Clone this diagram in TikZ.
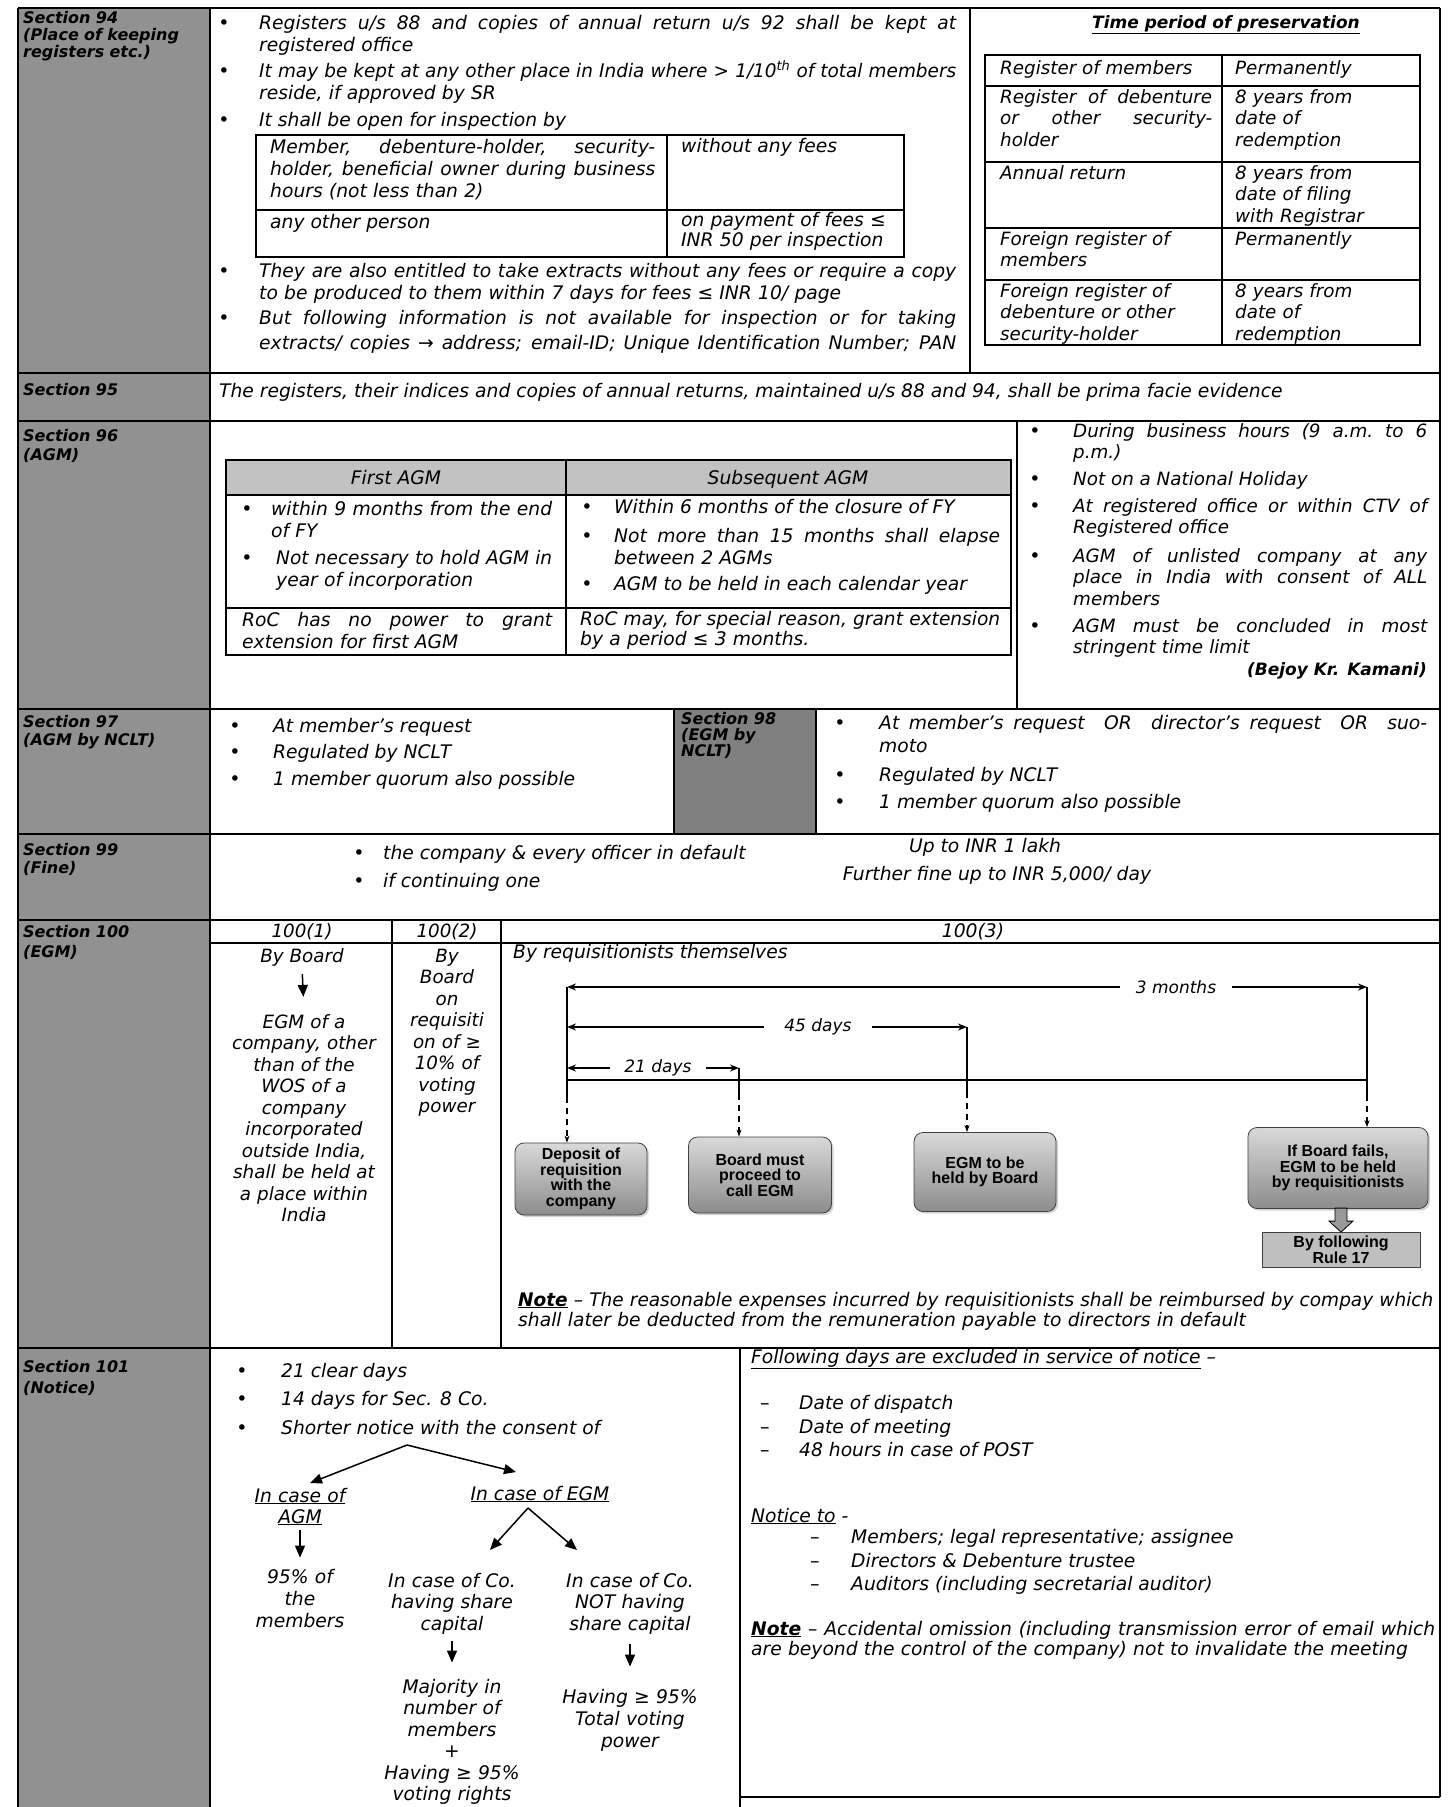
\documentclass[tikz,border=0pt]{standalone}
\usepackage{fontspec}
\setmainfont{DejaVu Sans}
\newfontfamily\narf{DejaVu Sans}
\newfontfamily\boxf{Liberation Sans}
\usetikzlibrary{arrows.meta,shadows,calc}
\newcommand{\sle}{≤}
\newcommand{\sge}{≥}
\newcommand{\sra}{→}
% a justified line of given width; squeezed if its natural width is larger
\newlength{\jlw}
\newcommand{\jline}[2]{\settowidth{\jlw}{#2}\ifdim\jlw>#1\relax\resizebox{#1}{\height}{#2}\else\makebox[#1][s]{\spaceskip=\fontdimen2\font plus 1fil\xspaceskip=\spaceskip #2}\fi}
\tikzset{
  sptip/.tip={Stealth[length=9pt,width=7pt]},
  grid/.style={line width=2pt},
  thinrule/.style={line width=1.4pt},
  nar/.style={font=\narf\itshape\fontsize{18.7}{22}\selectfont, inner sep=0pt, anchor=base west, align=left},
  wid/.style={font=\narf\itshape\fontsize{18.3}{21.5}\selectfont, inner sep=0pt, anchor=base west, align=left},
  widc/.style={wid, anchor=base, align=center},
  narc/.style={nar, anchor=base, align=center},
  lab/.style={font=\narf\bfseries\itshape\fontsize{16}{17}\selectfont, inner sep=0pt, anchor=base west, align=left, text width=185pt},
  dot/.style={font=\narf\fontsize{19}{22}\selectfont, inner sep=0pt, anchor=base},
  dashmark/.style={font=\narf\fontsize{19}{22}\selectfont, inner sep=0pt, anchor=base west},
  evbox/.style={rounded corners=9pt, draw=black!75, line width=0.8pt, top color=black!15, bottom color=black!45,
    drop shadow={opacity=0.35,shadow xshift=2pt,shadow yshift=-2pt},
    font=\boxf\bfseries\fontsize{16}{15.5}\selectfont, align=center, inner sep=2pt},
  tlab/.style={font=\narf\itshape\fontsize{17}{18}\selectfont, inner xsep=10pt, inner ysep=0pt},
  span/.style={line width=2pt},
  dsh/.style={line width=1.8pt, dash pattern=on 6pt off 5pt, -{Stealth[length=7pt,width=5pt]}},
  fat/.style={line width=1.5pt, -{Triangle[length=12pt,width=10pt]}},
}
\begin{document}
\begin{tikzpicture}[x=1pt,y=-1pt]
\useasboundingbox (0,0) rectangle (1450,1807);
% shaded cells
\fill[black!43] (18,8) rectangle (210,1807);
\fill[black!50] (674,709) rectangle (816,834);
\fill[black!24] (226,460) rectangle (1011,495);
% main grid
\draw[grid] (18,8) -- (1440,8);
\draw[grid] (18,8) -- (18,1807);
\draw[grid] (210,8) -- (210,1807);
\draw[grid] (1440,8) -- (1440,1797);
\foreach \yy in {373,421,709,834,920,1348} {\draw[grid] (18,\yy) -- (1440,\yy);}
\draw[grid] (740,1797) -- (1440,1797);
\draw[grid] (970,8) -- (970,373);
\draw[grid] (1017,421) -- (1017,709);
\draw[grid] (674,709) -- (674,834);
\draw[grid] (816,709) -- (816,834);
\draw[grid] (210,943) -- (1440,943);
\draw[grid] (392,920) -- (392,1348);
\draw[grid] (501,920) -- (501,1348);
\draw[grid] (740,1348) -- (740,1807);
% inner tables
\draw[thinrule] (256,135) rectangle (904,257);
\draw[thinrule] (667,135) -- (667,257);
\draw[thinrule] (256,210) -- (904,210);
\draw[thinrule] (985,55) rectangle (1420,345);
\draw[thinrule] (1222,55) -- (1222,345);
\foreach \yy in {86,162,228,280} {\draw[thinrule] (985,\yy) -- (1420,\yy);}
\draw[thinrule] (226,460) rectangle (1011,655);
\draw[thinrule] (226,495) -- (1011,495);
\draw[thinrule] (226,608) -- (1011,608);
\draw[thinrule] (566,460) -- (566,655);

% section labels
\node[lab] (s94) at (23,23) {Section 94\\(Place of keeping\\registers etc.)};
\node[lab] (s95) at (23,395) {Section 95};
\node[lab] (s96) at (23,441) {Section 96\\[2pt](AGM)};
\node[lab] (s97) at (23,727) {Section 97\\[1pt](AGM by NCLT)};
\node[lab, text width=130pt, font=\narf\bfseries\itshape\fontsize{16}{16}\selectfont] (s98) at (681,724) {Section 98\\(EGM by\\NCLT)};
\node[lab] (s99) at (23,855) {Section 99\\[1pt](Fine)};
\node[lab] (s100) at (23,937) {Section 100\\[3pt](EGM)};
\node[lab] (s101) at (23,1372) {Section 101\\[4pt](Notice)};

% Section 94
\node[dot] (d1) at (224,29) {\textbullet};
\node[nar,text width=697pt] (t1) at (259,29) {\jline{697pt}{Registers u/s 88 and copies of annual return u/s 92 shall be kept at}\\registered office};
\node[dot] (d2) at (224,77) {\textbullet};
\node[nar,text width=697pt] (t2) at (259,77) {\jline{697pt}{It may be kept at any other place in India where > 1/10\textsuperscript{th} of total members}\\reside, if approved by SR};
\node[dot] (d3) at (224,126) {\textbullet};
\node[nar] (t3) at (259,126) {It shall be open for inspection by};
\node[nar,text width=385pt] (c1) at (270,153) {\jline{385pt}{Member, debenture-holder, security-}\\\jline{385pt}{holder, beneficial owner during business}\\hours (not less than 2)};
\node[nar] (c2) at (681,152) {without any fees};
\node[nar] (c3) at (270,228) {any other person};
\node[nar,text width=215pt] (c4) at (681,226) {on payment of fees \sle\\[-2pt]INR 50 per inspection};
\node[dot] (d4) at (224,277) {\textbullet};
\node[nar,text width=697pt] (t4) at (259,277) {\jline{697pt}{They are also entitled to take extracts without any fees or require a copy}\\to be produced to them within 7 days for fees \sle{} INR 10/ page};
\node[dot] (d5) at (224,324) {\textbullet};
\node[nar,text width=697pt] (t5) at (259,324) {\jline{697pt}{But following information is not available for inspection or for taking}\\[3pt]\jline{697pt}{extracts/ copies \sra{} address; email-ID; Unique Identification Number; PAN}};

% preservation table
\node[font=\narf\bfseries\itshape\fontsize{17}{20}\selectfont, inner sep=0pt, anchor=base] (tp) at (1226,28) {\underline{Time period of preservation}};
\node[wid] (r1a) at (1000,74) {Register of members};
\node[wid] (r1b) at (1235,74) {Permanently};
\node[wid,text width=212pt] (r2a) at (1000,103) {\jline{212pt}{Register of debenture}\\\jline{212pt}{or other security-}\\holder};
\node[wid,text width=180pt] (r2b) at (1235,103) {8 years from\\date of\\redemption};
\node[wid] (r3a) at (1000,179) {Annual return};
\node[wid,text width=180pt] (r3b) at (1235,179) {8 years from\\date of filing\\with Registrar};
\node[wid,text width=212pt] (r4a) at (1000,245) {Foreign register of\\members};
\node[wid] (r4b) at (1235,245) {Permanently};
\node[wid,text width=212pt] (r5a) at (1000,297) {Foreign register of\\debenture or other\\security-holder};
\node[wid,text width=180pt] (r5b) at (1235,297) {8 years from\\date of\\redemption};

% Section 95
\node[nar] (t95) at (219,397) {The registers, their indices and copies of annual returns, maintained u/s 88 and 94, shall be prima facie evidence};

% Section 96 table
\node[nar, anchor=base] (h1) at (396,484) {First AGM};
\node[nar, anchor=base] (h2) at (788,484) {Subsequent AGM};
\node[dot] (d6) at (247,515) {\textbullet};
\node[nar,text width=281pt] (a1) at (271,515) {\jline{281pt}{within 9 months from the end}\\of FY};
\node[dot] (d7) at (247,564) {\textbullet};
\node[nar,text width=276pt] (a2) at (276,564) {\jline{276pt}{Not necessary to hold AGM in}\\year of incorporation};
\node[dot] (d8) at (587,513) {\textbullet};
\node[nar] (a3) at (614,513) {Within 6 months of the closure of FY};
\node[dot] (d9) at (587,542) {\textbullet};
\node[nar,text width=386pt] (a4) at (614,542) {\jline{386pt}{Not more than 15 months shall elapse}\\between 2 AGMs};
\node[dot] (d10) at (587,590) {\textbullet};
\node[nar] (a5) at (614,590) {AGM to be held in each calendar year};
\node[nar,text width=310pt] (a6) at (242,626) {\jline{310pt}{RoC has no power to grant}\\extension for first AGM};
\node[nar,text width=420pt] (a7) at (580,625) {\jline{420pt}{RoC may, for special reason, grant extension}\\[-2pt]by a period \sle{} 3 months.};

% Section 96 conditions
\node[dot] (d11) at (1035,437) {\textbullet};
\node[wid,text width=354pt] (g1) at (1073,437) {\jline{354pt}{During business hours (9 a.m. to 6}\\p.m.)};
\node[dot] (d12) at (1035,485) {\textbullet};
\node[wid] (g2) at (1073,485) {Not on a National Holiday};
\node[dot] (d13) at (1035,512) {\textbullet};
\node[wid,text width=354pt] (g3) at (1073,512) {\jline{354pt}{At registered office or within CTV of}\\Registered office};
\node[dot] (d14) at (1035,562) {\textbullet};
\node[wid,text width=354pt] (g4) at (1073,562) {\jline{354pt}{AGM of unlisted company at any}\\\jline{354pt}{place in India with consent of ALL}\\members};
\node[dot] (d15) at (1035,632) {\textbullet};
\node[wid,text width=354pt] (g5) at (1073,632) {\jline{354pt}{AGM must be concluded in most}\\stringent time limit};
\node[font=\narf\bfseries\itshape\fontsize{17}{20}\selectfont, inner sep=0pt, anchor=base east] (g6) at (1427,675) {(Bejoy Kr. Kamani)};

% Section 97
\node[dot] (d16) at (235,732) {\textbullet};
\node[nar] (u1) at (273,732) {At member’s request};
\node[dot] (d17) at (235,758) {\textbullet};
\node[nar] (u2) at (273,758) {Regulated by NCLT};
\node[dot] (d18) at (235,785) {\textbullet};
\node[nar] (u3) at (273,785) {1 member quorum also possible};

% Section 98
\node[dot] (d19) at (840,729) {\textbullet};
\node[nar,text width=548pt] (v1) at (879,729) {\jline{548pt}{At member’s request \ OR \ director’s request \ OR \ suo-}\\[1pt]moto};
\node[dot] (d20) at (840,781) {\textbullet};
\node[nar] (v2) at (879,781) {Regulated by NCLT};
\node[dot] (d21) at (840,808) {\textbullet};
\node[nar] (v3) at (879,808) {1 member quorum also possible};

% Section 99
\node[dot] (d22) at (359,859) {\textbullet};
\node[nar] (w1) at (383,859) {the company \& every officer in default};
\node[dot] (d23) at (359,887) {\textbullet};
\node[nar] (w2) at (383,887) {if continuing one};
\node[nar, anchor=base] (w3) at (985,852) {Up to INR 1 lakh};
\node[nar, anchor=base] (w4) at (997,880) {Further fine up to INR 5,000/ day};

% Section 100 headers
\node[widc] (k1) at (302,937) {100(1)};
\node[widc] (k2) at (447,937) {100(2)};
\node[narc] (k3) at (973,937) {100(3)};

% 100(1)
\node[widc] (by1) at (302,962) {By Board};
\node[widc, text width=180pt] (egm1) at (304,1028) {EGM of a\\company, other\\than of the\\WOS of a\\company\\incorporated\\outside India,\\shall be held at\\a place within\\India};
\draw[fat, shorten <=8pt, shorten >=17pt] (by1.south) -- (egm1.north);

% 100(2)
\node[widc, text width=105pt] (by2) at (447,962) {By\\Board\\on\\requisiti\\on of \sge\\10\% of\\voting\\power};

% 100(3)
\node[nar] (rq) at (513,958) {By requisitionists themselves};
\coordinate (tA) at (567,987);
\coordinate (tB) at (1367,987);
\coordinate (fA) at (567,1027);
\coordinate (fB) at (967,1027);
\coordinate (wA) at (567,1068);
\coordinate (wB) at (739,1068);
\coordinate (bA) at (567,1080);
\coordinate (bB) at (1367,1080);
\node[tlab, inner xsep=16pt] (m3) at (1176,987) {3 months};
\node[tlab, inner xsep=20pt] (m45) at (818,1027) {45 days};
\node[tlab, inner xsep=14pt] (m21) at (658,1068) {21 days};
\draw[span, sptip-] (tA) -- (m3.west);
\draw[span, -sptip] (m3.east) -- (tB);
\draw[span, sptip-] (fA) -- (m45.west);
\draw[span, -sptip] (m45.east) -- (fB);
\draw[span, sptip-] (wA) -- (m21.west);
\draw[span, -sptip] (m21.east) -- (wB);
\draw[span] (bA) -- (bB);

\node[evbox, minimum width=132pt, minimum height=72pt] (bx1) at (581,1179) {Deposit of\\requisition\\with the\\company};
\node[evbox, minimum width=143pt, minimum height=76pt] (bx2) at (760,1175) {Board must\\proceed to\\call EGM};
\node[evbox, minimum width=142pt, minimum height=79pt] (bx3) at (985,1172) {EGM to be\\held by Board};
\node[evbox, minimum width=180pt, minimum height=81pt] (bx4) at (1338,1168) {If Board fails,\\EGM to be held\\by requisitionists};
\node[draw=black!75, line width=0.8pt, fill=black!25, minimum width=158pt, minimum height=35pt, inner sep=1pt,
      font=\boxf\bfseries\fontsize{16}{15.5}\selectfont, align=center] (bx5) at (1341,1250) {By following\\Rule 17};

\draw[span] (tA) -- (567,1097);
\draw[dsh] (567,1097) -- (bx1.north -| tA);
\draw[span] (wB) -- (739,1094);
\draw[dsh] (739,1094) -- (bx2.north -| wB);
\draw[span] (fB) -- (967,1092);
\draw[dsh] (967,1092) -- (bx3.north -| fB);
\draw[span] (tB) -- (1367,1095);
\draw[dsh] (1367,1095) -- (bx4.north -| tB);
% block arrow to rule 17
\draw[fill=black!40, line width=0.8pt] ($(bx5.north)+(-6,-24)$) -- ($(bx5.north)+(6,-24)$) -- ($(bx5.north)+(6,-11)$) -- ($(bx5.north)+(12,-11)$) -- (bx5.north) -- ($(bx5.north)+(-12,-11)$) -- ($(bx5.north)+(-6,-11)$) -- cycle;

\node[nar,text width=915pt] (nt) at (518,1306) {\jline{915pt}{\underline{\bfseries Note} – The reasonable expenses incurred by requisitionists shall be reimbursed by compay which}\\[-2pt]shall later be deducted from the remuneration payable to directors in default};

% Section 101 left
\node[dot] (d24) at (242,1377) {\textbullet};
\node[nar] (x1) at (281,1377) {21 clear days};
\node[dot] (d25) at (242,1405) {\textbullet};
\node[nar] (x2) at (281,1405) {14 days for Sec. 8 Co.};
\node[dot] (d26) at (242,1434) {\textbullet};
\node[nar] (x3) at (281,1434) {Shorter notice with the consent of};
\coordinate (ap1) at (407,1445);
\coordinate (ea1) at (310,1483);
\coordinate (ea2) at (516,1472);
\draw[fat] (ap1) -- (ea1);
\draw[fat] (ap1) -- (ea2);
\node[narc, text width=120pt] (agm) at (300,1502) {\underline{In case of}\\[-1pt]\underline{AGM}};
\node[narc] (egm) at (540,1500) {\underline{In case of EGM}};
\coordinate (ap2) at (528,1508);
\coordinate (ea3) at (490,1550);
\coordinate (ea4) at (577,1550);
\draw[fat] (ap2) -- (ea3);
\draw[fat] (ap2) -- (ea4);
\node[narc, text width=120pt] (n95) at (300,1583) {95\% of\\the\\members};
\node[narc, text width=170pt] (shc) at (452,1587) {In case of Co.\\[-0.5pt]having share\\[-0.5pt]capital};
\node[narc, text width=170pt] (nshc) at (630,1587) {In case of Co.\\[-0.5pt]NOT having\\[-0.5pt]share capital};
\node[narc, text width=170pt] (maj) at (452,1693) {Majority in\\[-0.5pt]number of\\[-0.5pt]members\\[-0.5pt]+\\[-0.5pt]Having \sge{} 95\%\\[-0.5pt]voting rights};
\node[narc, text width=170pt] (hav) at (630,1703) {Having \sge{} 95\%\\Total voting\\power};
\draw[fat, shorten <=5pt, shorten >=11pt] (agm.south) -- (n95.north);
\draw[fat, shorten <=7pt, shorten >=16pt] (shc.south) -- (maj.north);
\draw[fat, shorten <=10pt, shorten >=22pt] (nshc.south) -- (hav.north);

% Section 101 right
\node[nar] (y0) at (751,1363) {\underline{Following days are excluded in service of notice} –};
\node[dashmark] (e1) at (760,1409) {–};
\node[nar] (y1) at (799,1409) {Date of dispatch};
\node[dashmark] (e2) at (760,1433) {–};
\node[nar] (y2) at (799,1433) {Date of meeting};
\node[dashmark] (e3) at (760,1456) {–};
\node[nar] (y3) at (799,1456) {48 hours in case of POST};
\node[nar] (y4) at (751,1522) {\underline{Notice to} -};
\node[dashmark] (e4) at (810,1543) {–};
\node[nar] (y5) at (851,1543) {Members; legal representative; assignee};
\node[dashmark] (e5) at (810,1567) {–};
\node[nar] (y6) at (851,1567) {Directors \& Debenture trustee};
\node[dashmark] (e6) at (810,1590) {–};
\node[nar] (y7) at (851,1590) {Auditors (including secretarial auditor)};
\node[nar,text width=684pt] (y8) at (751,1635) {\jline{684pt}{\underline{\bfseries Note} – Accidental omission (including transmission error of email which}\\[-2pt]are beyond the control of the company) not to invalidate the meeting};
\end{tikzpicture}
\end{document}
